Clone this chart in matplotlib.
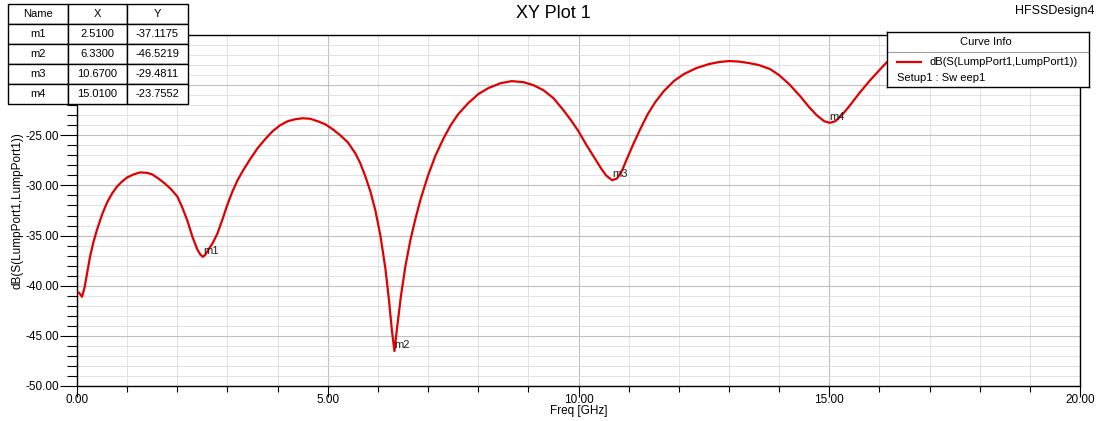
import numpy as np
import matplotlib
matplotlib.use('Agg')
import matplotlib.pyplot as plt
from matplotlib.ticker import MultipleLocator, FormatStrFormatter

plt.rcParams['font.family'] = ['Liberation Sans', 'DejaVu Sans']

# curve (Freq [GHz], dB)
freq = [0.04, 0.1, 0.15, 0.2, 0.26, 0.33, 0.4, 0.5, 0.6, 0.7, 0.8, 0.9, 1.0, 1.13,
        1.26, 1.4, 1.5, 1.62, 1.75, 1.88, 2.0, 2.1, 2.2, 2.3, 2.4, 2.46, 2.51, 2.56,
        2.62, 2.7, 2.8, 2.9, 3.0, 3.1, 3.2, 3.3, 3.45, 3.6, 3.75, 3.9, 4.05, 4.2,
        4.35, 4.5, 4.65, 4.8, 4.95, 5.1, 5.25, 5.4, 5.55, 5.65, 5.75, 5.85, 5.95,
        6.05, 6.15, 6.22, 6.28, 6.33, 6.38, 6.46, 6.55, 6.65, 6.75, 6.85, 7.0, 7.15,
        7.3, 7.45, 7.6, 7.8, 8.0, 8.2, 8.45, 8.67, 8.9, 9.1, 9.3, 9.5, 9.7, 9.85,
        10.0, 10.15, 10.3, 10.45, 10.55, 10.67, 10.77, 10.87, 10.97, 11.1, 11.23,
        11.38, 11.53, 11.7, 11.9, 12.1, 12.35, 12.6, 12.8, 13.0, 13.2, 13.4, 13.6,
        13.82, 14.0, 14.2, 14.42, 14.6, 14.75, 14.9, 15.01, 15.12, 15.25, 15.4,
        15.6, 15.8, 16.0, 16.15, 16.4, 16.7, 17.0, 17.5, 18.0, 18.5, 19.0, 19.5, 20.0]
db = [-40.7, -41.1, -40.2, -38.8, -37.1, -35.6, -34.4, -32.9, -31.7, -30.8, -30.1,
      -29.6, -29.2, -28.9, -28.7, -28.75, -28.9, -29.3, -29.8, -30.4, -31.1, -32.2,
      -33.5, -35.1, -36.4, -36.9, -37.12, -36.9, -36.4, -35.8, -34.8, -33.4, -31.9,
      -30.6, -29.5, -28.6, -27.4, -26.3, -25.4, -24.6, -24.0, -23.6, -23.4, -23.3,
      -23.35, -23.6, -23.9, -24.4, -25.0, -25.7, -26.8, -27.8, -29.1, -30.6, -32.5,
      -35.0, -38.3, -41.4, -44.5, -46.52, -44.3, -41.0, -38.0, -35.4, -33.3, -31.4,
      -29.0, -27.0, -25.4, -24.0, -22.9, -21.8, -20.9, -20.3, -19.8, -19.6, -19.7,
      -20.0, -20.5, -21.3, -22.5, -23.5, -24.6, -25.9, -27.1, -28.3, -29.0, -29.48,
      -29.3, -28.5, -27.3, -25.8, -24.4, -22.9, -21.7, -20.6, -19.6, -18.9, -18.3,
      -17.9, -17.7, -17.6, -17.65, -17.8, -18.0, -18.4, -19.0, -19.9, -21.1, -22.2,
      -23.0, -23.6, -23.76, -23.6, -23.0, -22.1, -20.8, -19.6, -18.5, -17.7, -16.8,
      -16.2, -15.9, -15.7, -16.0, -16.8, -17.8, -18.8, -19.5]

marker_names = ['m1', 'm2', 'm3', 'm4']
marker_x = [2.51, 6.33, 10.67, 15.01]
marker_y = [-37.1175, -46.5219, -29.4811, -23.7552]

W, H = 1107, 421
fig = plt.figure(figsize=(W / 100, H / 100), dpi=100)
ax = fig.add_axes([77 / W, (H - 386) / H, 1003 / W, 351 / H])

ax.plot(freq, db, color='#e00000', lw=1.6, zorder=3, solid_joinstyle='round')
for name, mx, my in zip(marker_names, marker_x, marker_y):
    ax.text(mx, my + 0.1, name, fontsize=8, ha='left', va='bottom', color='#202020', zorder=4)

ax.set_xlim(0, 20)
ax.set_ylim(-50, -15)
ax.xaxis.set_major_locator(MultipleLocator(5))
ax.xaxis.set_minor_locator(MultipleLocator(1))
ax.yaxis.set_major_locator(MultipleLocator(5))
ax.yaxis.set_minor_locator(MultipleLocator(1))
ax.xaxis.set_major_formatter(FormatStrFormatter('%.2f'))
ax.yaxis.set_major_formatter(FormatStrFormatter('%.2f'))
ax.grid(which='major', color='#c0c0c0', lw=0.8, zorder=0)
ax.grid(which='minor', color='#e2e2e2', lw=0.7, zorder=0)
ax.set_axisbelow(True)
ax.tick_params(axis='y', which='major', length=12, width=0.8, labelsize=8.5, pad=1)
ax.tick_params(axis='y', which='minor', length=7, width=0.8)
ax.tick_params(axis='x', which='major', length=8, width=0.8, labelsize=8.5, pad=-2)
ax.tick_params(axis='x', which='minor', length=4, width=0.8)
for s in ax.spines.values():
    s.set_linewidth(1.0)
    s.set_color('black')
ax.set_xlabel('Freq [GHz]', fontsize=8.5, labelpad=-1)
ax.set_ylabel('dB(S(LumpPort1,LumpPort1))', fontsize=8.5)
ax.yaxis.set_label_coords(-53 / 1003, 0.5)

fig.text(0.5, 1 - 13 / H, 'XY Plot 1', fontsize=13, ha='center', va='center')
fig.text(1094 / W, 1 - 11 / H, 'HFSSDesign4', fontsize=9, ha='right', va='center')

# marker table
tab_ax = fig.add_axes([8 / W, (H - 104) / H, 180 / W, 100 / H])
tab_ax.axis('off')
cells = [[n, '%.4f' % x, '%.4f' % y] for n, x, y in zip(marker_names, marker_x, marker_y)]
tbl = tab_ax.table(cellText=cells, colLabels=['Name', 'X', 'Y'], cellLoc='center',
                   colWidths=[60 / 180, 59 / 180, 61 / 180], bbox=[0, 0, 1, 1])
tbl.auto_set_font_size(False)
tbl.set_fontsize(8)
for cell in tbl.get_celld().values():
    cell.set_edgecolor('black')
    cell.set_linewidth(1.0)
    cell.set_facecolor('white')

# curve info box
leg = fig.add_axes([887 / W, (H - 87) / H, 202 / W, 55 / H])
leg.set_xlim(0, 202)
leg.set_ylim(55, 0)
leg.set_xticks([])
leg.set_yticks([])
leg.set_facecolor('white')
for s in leg.spines.values():
    s.set_linewidth(1.0)
    s.set_color('black')
leg.text(99, 10, 'Curve Info', fontsize=8, ha='center', va='center')
leg.plot([0, 202], [20, 20], color='#a0a0a0', lw=0.8)
leg.plot([10, 34], [30, 30], color='#e00000', lw=1.6)
leg.text(43, 30, 'dB(S(LumpPort1,LumpPort1))', fontsize=8, ha='left', va='center')
leg.text(10, 46, 'Setup1 : Sw eep1', fontsize=8, ha='left', va='center')

fig.savefig('out.png', dpi=100)
